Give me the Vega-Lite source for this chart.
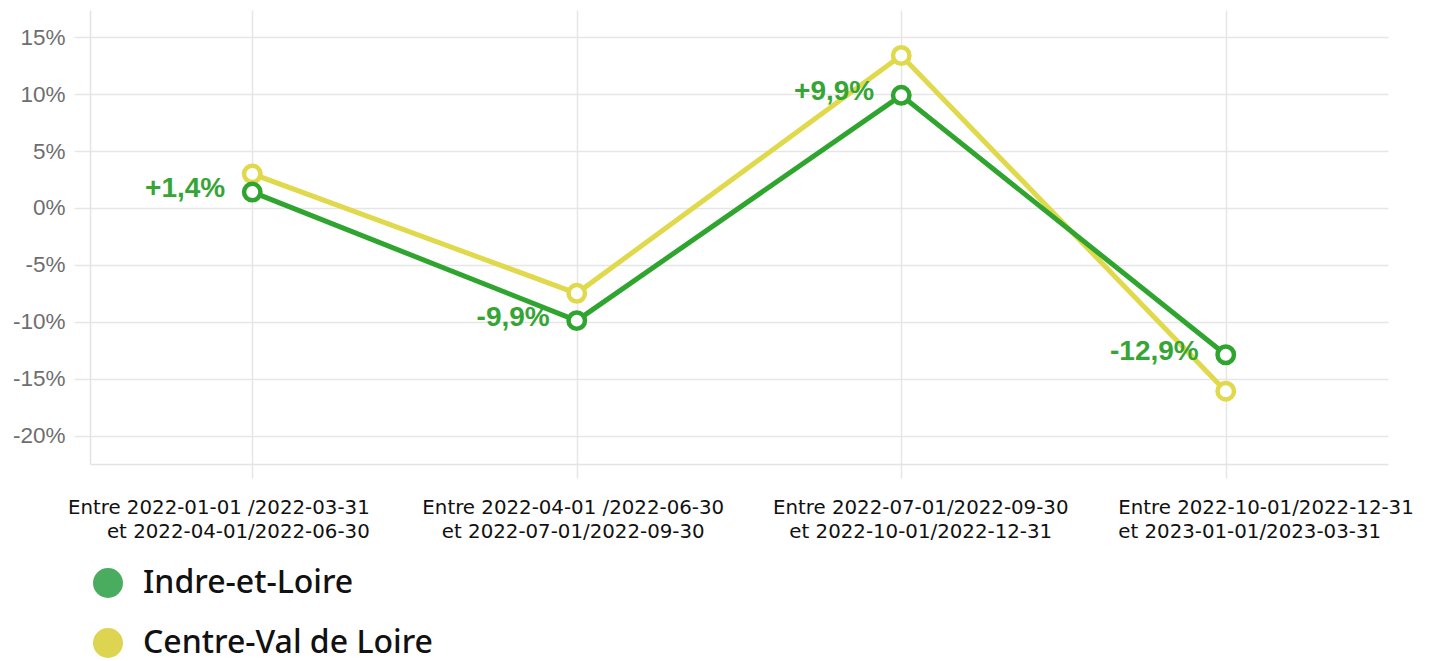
{
  "$schema": "https://vega.github.io/schema/vega-lite/v6.json",
  "width": 1298,
  "height": 454,
  "autosize": {"type": "none"},
  "padding": {"left": 90, "top": 10, "right": 41, "bottom": 197},
  "background": "white",
  "data": {
    "values": [
      {"period": "Entre 2022-01-01 /2022-03-31|et 2022-04-01/2022-06-30", "series": "Indre-et-Loire", "value": 0.014},
      {"period": "Entre 2022-04-01 /2022-06-30|et 2022-07-01/2022-09-30", "series": "Indre-et-Loire", "value": -0.099},
      {"period": "Entre 2022-07-01/2022-09-30|et 2022-10-01/2022-12-31", "series": "Indre-et-Loire", "value": 0.099},
      {"period": "Entre 2022-10-01/2022-12-31|et 2023-01-01/2023-03-31", "series": "Indre-et-Loire", "value": -0.129},
      {"period": "Entre 2022-01-01 /2022-03-31|et 2022-04-01/2022-06-30", "series": "Centre-Val de Loire", "value": 0.030},
      {"period": "Entre 2022-04-01 /2022-06-30|et 2022-07-01/2022-09-30", "series": "Centre-Val de Loire", "value": -0.075},
      {"period": "Entre 2022-07-01/2022-09-30|et 2022-10-01/2022-12-31", "series": "Centre-Val de Loire", "value": 0.134},
      {"period": "Entre 2022-10-01/2022-12-31|et 2023-01-01/2023-03-31", "series": "Centre-Val de Loire", "value": -0.161}
    ]
  },
  "encoding": {
    "x": {
      "field": "period",
      "type": "ordinal",
      "sort": null,
      "scale": {"type": "point", "padding": 0.5},
      "axis": {
        "title": null,
        "grid": true,
        "gridColor": "#e6e6e6",
        "gridWidth": 1.5,
        "domainColor": "#e3e3e3",
        "domainWidth": 1.5,
        "tickColor": "#e6e6e6",
        "tickWidth": 1.5,
        "tickSize": 14,
        "labelExpr": "split(datum.label, '|')",
        "labelFont": "DejaVu Sans",
        "labelFontSize": 19.8,
        "labelColor": "#111111",
        "labelLineHeight": 24,
        "labelBaseline": "top",
        "labelPadding": 19,
        "labelAngle": 0,
        "labelOverlap": false,
        "labelFlush": false,
        "labelBound": false,
        "labelLimit": 0,
        "labelAlign": {"expr": "datum.index < 0.2 ? 'right' : (datum.index > 0.8 ? 'left' : 'center')"},
        "labelOffset": {"expr": "datum.index < 0.2 ? 117 : (datum.index > 0.8 ? -108 : (datum.index < 0.5 ? -4 : 19))"}
      }
    },
    "y": {
      "field": "value",
      "type": "quantitative",
      "scale": {"domain": [-0.225, 0.174], "nice": false, "zero": false},
      "axis": {
        "title": null,
        "values": [-0.2, -0.15, -0.1, -0.05, 0, 0.05, 0.1, 0.15],
        "format": ".0%",
        "grid": true,
        "gridColor": "#e6e6e6",
        "gridWidth": 1.5,
        "domainColor": "#e3e3e3",
        "domainWidth": 1.5,
        "tickColor": "#e6e6e6",
        "tickWidth": 1.5,
        "tickSize": 16,
        "labelFont": "Liberation Sans",
        "labelFontSize": 22.5,
        "labelColor": "#6e6e6e",
        "labelPadding": 9
      }
    }
  },
  "layer": [
    {
      "mark": {"type": "point", "opacity": 0, "filled": true, "size": 10},
      "encoding": {
        "fill": {
          "field": "series",
          "type": "nominal",
          "scale": {"domain": ["Indre-et-Loire", "Centre-Val de Loire"], "range": ["#4aac5f", "#ddd551"]},
          "legend": {
            "title": null,
            "orient": "none",
            "legendX": 2,
            "legendY": 557,
            "padding": 0,
            "symbolType": "circle",
            "symbolSize": 900,
            "symbolOpacity": 1,
            "symbolStrokeWidth": 0,
            "labelFont": "Noto Sans",
            "labelFontWeight": 500,
            "labelFontSize": 32,
            "labelColor": "#111111",
            "labelOffset": 19,
            "labelLimit": 0,
            "rowPadding": 28
          }
        }
      }
    },
    {
      "transform": [{"filter": "datum.series == 'Centre-Val de Loire'"}],
      "mark": {"type": "line", "strokeWidth": 5, "color": "#e0d94b"},
      "encoding": {}
    },
    {
      "transform": [{"filter": "datum.series == 'Centre-Val de Loire'"}],
      "mark": {"type": "point", "shape": "circle", "filled": false, "fill": "white", "fillOpacity": 1, "opacity": 1, "size": 270, "strokeWidth": 4.5, "stroke": "#e0d94b"},
      "encoding": {}
    },
    {
      "transform": [{"filter": "datum.series == 'Indre-et-Loire'"}],
      "mark": {"type": "line", "strokeWidth": 5, "color": "#2fa52f"},
      "encoding": {}
    },
    {
      "transform": [{"filter": "datum.series == 'Indre-et-Loire'"}],
      "mark": {"type": "point", "shape": "circle", "filled": false, "fill": "white", "fillOpacity": 1, "opacity": 1, "size": 270, "strokeWidth": 4.5, "stroke": "#2fa52f"},
      "encoding": {}
    },
    {
      "transform": [{"filter": "datum.series == 'Indre-et-Loire'"}],
      "mark": {"type": "text", "align": "right", "baseline": "middle", "dx": -27, "dy": -3, "font": "Liberation Sans", "fontWeight": "bold", "fontSize": 28, "color": "#35a535"},
      "encoding": {
        "text": {"field": "value", "type": "quantitative", "format": "+.1%"}
      }
    }
  ],
  "config": {
    "view": {"stroke": null},
    "locale": {
      "number": {
        "decimal": ",",
        "thousands": " ",
        "grouping": [3],
        "currency": ["", " €"],
        "minus": "-",
        "percent": "%"
      }
    }
  }
}
